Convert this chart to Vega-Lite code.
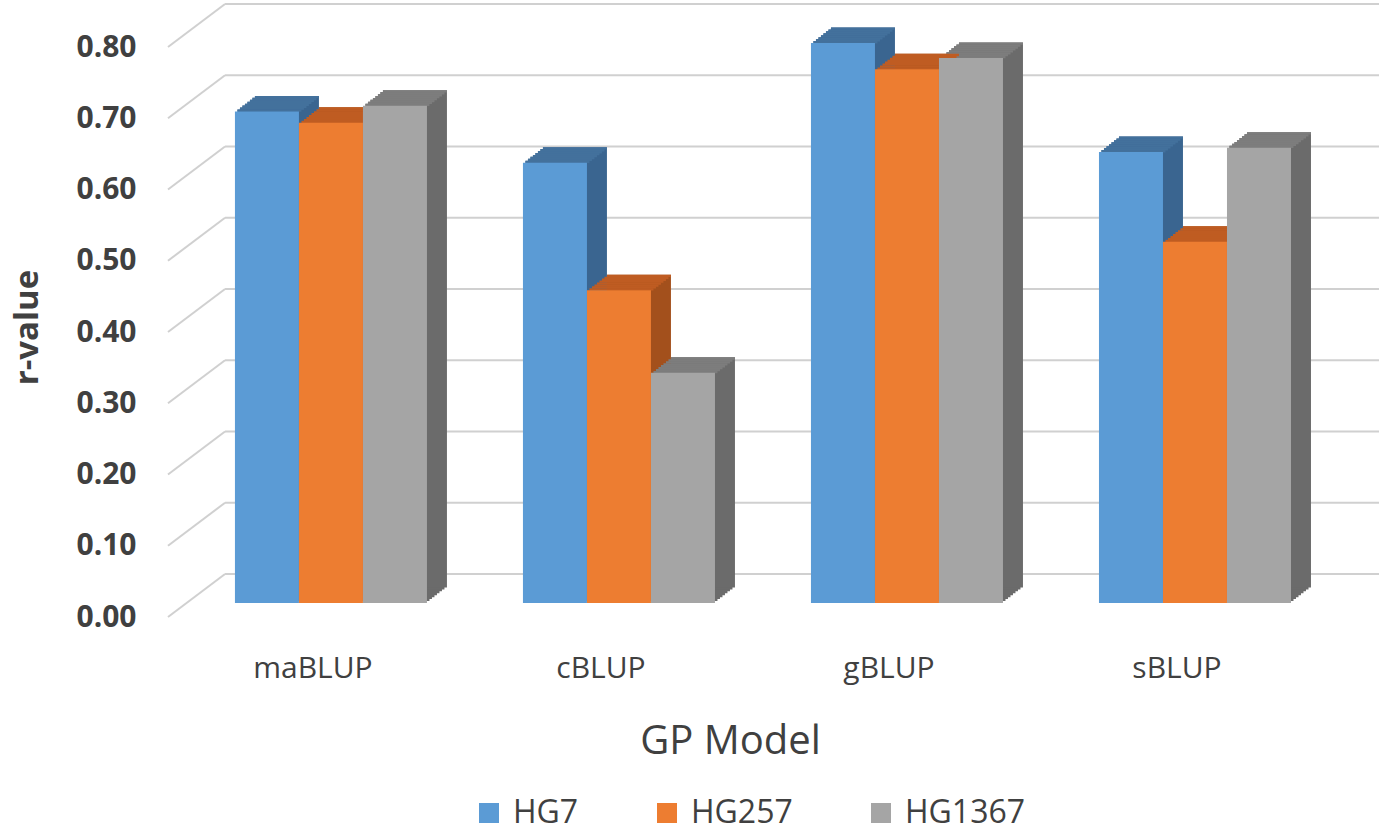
{
  "$schema": "https://vega.github.io/schema/vega-lite/v6.json",
  "description": "r-value by GP model and marker set, drawn as Excel-style 3D clustered columns",
  "autosize": {"type": "none"},
  "padding": {"left": 168, "top": 33, "right": 7, "bottom": 231},
  "width": 1211,
  "height": 570,
  "background": "white",
  "datasets": {
    "grid": [
      {"r": 0.0}, {"r": 0.1}, {"r": 0.2}, {"r": 0.3}, {"r": 0.4},
      {"r": 0.5}, {"r": 0.6}, {"r": 0.7}, {"r": 0.8}
    ],
    "bars": [
      {"model": "maBLUP", "series": "HG7", "r": 0.690},
      {"model": "maBLUP", "series": "HG257", "r": 0.674},
      {"model": "maBLUP", "series": "HG1367", "r": 0.698},
      {"model": "cBLUP", "series": "HG7", "r": 0.618},
      {"model": "cBLUP", "series": "HG257", "r": 0.439},
      {"model": "cBLUP", "series": "HG1367", "r": 0.323},
      {"model": "gBLUP", "series": "HG7", "r": 0.786},
      {"model": "gBLUP", "series": "HG257", "r": 0.749},
      {"model": "gBLUP", "series": "HG1367", "r": 0.765},
      {"model": "sBLUP", "series": "HG7", "r": 0.633},
      {"model": "sBLUP", "series": "HG257", "r": 0.507},
      {"model": "sBLUP", "series": "HG1367", "r": 0.639}
    ]
  },
  "encoding": {
    "y": {
      "field": "r",
      "type": "quantitative",
      "title": "r-value",
      "scale": {"domain": [0, 0.8], "nice": false},
      "axis": {
        "values": [0, 0.1, 0.2, 0.3, 0.4, 0.5, 0.6, 0.7, 0.8],
        "format": ".2f",
        "grid": false,
        "domain": false,
        "ticks": false,
        "tickSize": 0,
        "labelPadding": 32,
        "labelOffset": 14,
        "labelFont": "Open Sans",
        "labelFontSize": 30,
        "labelFontWeight": "bold",
        "labelColor": "#404040",
        "titleFont": "Open Sans",
        "titleFontSize": 33,
        "titleFontWeight": "bold",
        "titleColor": "#404040",
        "titleX": -124,
        "titleY": 294
      }
    }
  },
  "layer": [
    {
      "data": {"name": "grid"},
      "layer": [
        {
          "mark": {"type": "rule", "color": "#d0d0d0", "strokeWidth": 2, "yOffset": -29},
          "encoding": {
            "x": {"datum": 0.0471, "type": "quantitative", "scale": {"domain": [0, 1], "nice": false, "zero": false}, "axis": null},
            "x2": {"datum": 1}
          }
        },
        {
          "mark": {"type": "rule", "color": "#d0d0d0", "strokeWidth": 2, "yOffset": 14, "y2Offset": -29},
          "encoding": {
            "x": {"datum": 0, "type": "quantitative", "scale": {"domain": [0, 1], "nice": false, "zero": false}, "axis": null},
            "x2": {"datum": 0.0471},
            "y2": {"field": "r"}
          }
        }
      ]
    },
    {
      "data": {"name": "bars"},
      "encoding": {
        "x": {
          "field": "model",
          "type": "nominal",
          "sort": ["maBLUP", "cBLUP", "gBLUP", "sBLUP"],
          "title": "GP Model",
          "scale": {"paddingInner": 0.3333, "paddingOuter": 0.269, "align": 0.432},
          "axis": {
            "labelAngle": 0,
            "domain": false,
            "ticks": false,
            "grid": false,
            "labelPadding": 50,
            "labelOffset": -18,
            "labelFont": "Open Sans",
            "labelFontSize": 30,
            "labelColor": "#404040",
            "titleFont": "Open Sans",
            "titleFontSize": 40,
            "titleFontWeight": "normal",
            "titleColor": "#404040",
            "titleX": 562,
            "titleY": 118
          }
        },
        "xOffset": {
          "field": "series",
          "type": "nominal",
          "sort": ["HG7", "HG257", "HG1367"],
          "scale": {"paddingInner": 0, "paddingOuter": 0}
        }
      },
      "layer": [
        {
          "mark": {"type": "bar", "yOffset": -1.94, "y2Offset": -1.94},
          "encoding": {
            "x": {"field": "model", "type": "nominal", "scale": {"paddingInner": 0.3333, "paddingOuter": 0.269, "align": 0.4481}, "axis": null},
            "y2": {"datum": 0},
            "color": {"condition": [{"test": "datum.series === 'HG7'", "value": "#3a6590"}, {"test": "datum.series === 'HG257'", "value": "#a3501c"}], "value": "#6b6b6b"}
          }
        },
        {
          "mark": {"type": "bar", "yOffset": -3.88, "y2Offset": -3.88},
          "encoding": {
            "x": {"field": "model", "type": "nominal", "scale": {"paddingInner": 0.3333, "paddingOuter": 0.269, "align": 0.4643}, "axis": null},
            "y2": {"datum": 0},
            "color": {"condition": [{"test": "datum.series === 'HG7'", "value": "#3a6590"}, {"test": "datum.series === 'HG257'", "value": "#a3501c"}], "value": "#6b6b6b"}
          }
        },
        {
          "mark": {"type": "bar", "yOffset": -5.81, "y2Offset": -5.81},
          "encoding": {
            "x": {"field": "model", "type": "nominal", "scale": {"paddingInner": 0.3333, "paddingOuter": 0.269, "align": 0.4804}, "axis": null},
            "y2": {"datum": 0},
            "color": {"condition": [{"test": "datum.series === 'HG7'", "value": "#3a6590"}, {"test": "datum.series === 'HG257'", "value": "#a3501c"}], "value": "#6b6b6b"}
          }
        },
        {
          "mark": {"type": "bar", "yOffset": -7.75, "y2Offset": -7.75},
          "encoding": {
            "x": {"field": "model", "type": "nominal", "scale": {"paddingInner": 0.3333, "paddingOuter": 0.269, "align": 0.4965}, "axis": null},
            "y2": {"datum": 0},
            "color": {"condition": [{"test": "datum.series === 'HG7'", "value": "#3a6590"}, {"test": "datum.series === 'HG257'", "value": "#a3501c"}], "value": "#6b6b6b"}
          }
        },
        {
          "mark": {"type": "bar", "yOffset": -9.69, "y2Offset": -9.69},
          "encoding": {
            "x": {"field": "model", "type": "nominal", "scale": {"paddingInner": 0.3333, "paddingOuter": 0.269, "align": 0.5126}, "axis": null},
            "y2": {"datum": 0},
            "color": {"condition": [{"test": "datum.series === 'HG7'", "value": "#3a6590"}, {"test": "datum.series === 'HG257'", "value": "#a3501c"}], "value": "#6b6b6b"}
          }
        },
        {
          "mark": {"type": "bar", "yOffset": -11.63, "y2Offset": -11.63},
          "encoding": {
            "x": {"field": "model", "type": "nominal", "scale": {"paddingInner": 0.3333, "paddingOuter": 0.269, "align": 0.5288}, "axis": null},
            "y2": {"datum": 0},
            "color": {"condition": [{"test": "datum.series === 'HG7'", "value": "#3a6590"}, {"test": "datum.series === 'HG257'", "value": "#a3501c"}], "value": "#6b6b6b"}
          }
        },
        {
          "mark": {"type": "bar", "yOffset": -13.56, "y2Offset": -13.56},
          "encoding": {
            "x": {"field": "model", "type": "nominal", "scale": {"paddingInner": 0.3333, "paddingOuter": 0.269, "align": 0.5449}, "axis": null},
            "y2": {"datum": 0},
            "color": {"condition": [{"test": "datum.series === 'HG7'", "value": "#3a6590"}, {"test": "datum.series === 'HG257'", "value": "#a3501c"}], "value": "#6b6b6b"}
          }
        },
        {
          "mark": {"type": "bar", "yOffset": -15.5, "y2Offset": -15.5},
          "encoding": {
            "x": {"field": "model", "type": "nominal", "scale": {"paddingInner": 0.3333, "paddingOuter": 0.269, "align": 0.5610}, "axis": null},
            "y2": {"datum": 0},
            "color": {"condition": [{"test": "datum.series === 'HG7'", "value": "#3a6590"}, {"test": "datum.series === 'HG257'", "value": "#a3501c"}], "value": "#6b6b6b"}
          }
        },
        {
          "mark": {"type": "bar", "yOffset": -1.94, "y2Offset": 0.4},
          "encoding": {
            "x": {"field": "model", "type": "nominal", "scale": {"paddingInner": 0.3333, "paddingOuter": 0.269, "align": 0.4481}, "axis": null},
            "y2": {"field": "r"},
            "color": {"condition": [{"test": "datum.series === 'HG7'", "value": "#43719c"}, {"test": "datum.series === 'HG257'", "value": "#bf5c22"}], "value": "#7d7d7d"}
          }
        },
        {
          "mark": {"type": "bar", "yOffset": -3.88, "y2Offset": -1.6},
          "encoding": {
            "x": {"field": "model", "type": "nominal", "scale": {"paddingInner": 0.3333, "paddingOuter": 0.269, "align": 0.4643}, "axis": null},
            "y2": {"field": "r"},
            "color": {"condition": [{"test": "datum.series === 'HG7'", "value": "#43719c"}, {"test": "datum.series === 'HG257'", "value": "#bf5c22"}], "value": "#7d7d7d"}
          }
        },
        {
          "mark": {"type": "bar", "yOffset": -5.81, "y2Offset": -3.5},
          "encoding": {
            "x": {"field": "model", "type": "nominal", "scale": {"paddingInner": 0.3333, "paddingOuter": 0.269, "align": 0.4804}, "axis": null},
            "y2": {"field": "r"},
            "color": {"condition": [{"test": "datum.series === 'HG7'", "value": "#43719c"}, {"test": "datum.series === 'HG257'", "value": "#bf5c22"}], "value": "#7d7d7d"}
          }
        },
        {
          "mark": {"type": "bar", "yOffset": -7.75, "y2Offset": -5.45},
          "encoding": {
            "x": {"field": "model", "type": "nominal", "scale": {"paddingInner": 0.3333, "paddingOuter": 0.269, "align": 0.4965}, "axis": null},
            "y2": {"field": "r"},
            "color": {"condition": [{"test": "datum.series === 'HG7'", "value": "#43719c"}, {"test": "datum.series === 'HG257'", "value": "#bf5c22"}], "value": "#7d7d7d"}
          }
        },
        {
          "mark": {"type": "bar", "yOffset": -9.69, "y2Offset": -7.4},
          "encoding": {
            "x": {"field": "model", "type": "nominal", "scale": {"paddingInner": 0.3333, "paddingOuter": 0.269, "align": 0.5126}, "axis": null},
            "y2": {"field": "r"},
            "color": {"condition": [{"test": "datum.series === 'HG7'", "value": "#43719c"}, {"test": "datum.series === 'HG257'", "value": "#bf5c22"}], "value": "#7d7d7d"}
          }
        },
        {
          "mark": {"type": "bar", "yOffset": -11.63, "y2Offset": -9.3},
          "encoding": {
            "x": {"field": "model", "type": "nominal", "scale": {"paddingInner": 0.3333, "paddingOuter": 0.269, "align": 0.5288}, "axis": null},
            "y2": {"field": "r"},
            "color": {"condition": [{"test": "datum.series === 'HG7'", "value": "#43719c"}, {"test": "datum.series === 'HG257'", "value": "#bf5c22"}], "value": "#7d7d7d"}
          }
        },
        {
          "mark": {"type": "bar", "yOffset": -13.56, "y2Offset": -11.2},
          "encoding": {
            "x": {"field": "model", "type": "nominal", "scale": {"paddingInner": 0.3333, "paddingOuter": 0.269, "align": 0.5449}, "axis": null},
            "y2": {"field": "r"},
            "color": {"condition": [{"test": "datum.series === 'HG7'", "value": "#43719c"}, {"test": "datum.series === 'HG257'", "value": "#bf5c22"}], "value": "#7d7d7d"}
          }
        },
        {
          "mark": {"type": "bar", "yOffset": -15.5, "y2Offset": -13.2},
          "encoding": {
            "x": {"field": "model", "type": "nominal", "scale": {"paddingInner": 0.3333, "paddingOuter": 0.269, "align": 0.5610}, "axis": null},
            "y2": {"field": "r"},
            "color": {"condition": [{"test": "datum.series === 'HG7'", "value": "#43719c"}, {"test": "datum.series === 'HG257'", "value": "#bf5c22"}], "value": "#7d7d7d"}
          }
        },
        {
          "mark": {"type": "bar"},
          "encoding": {
            "color": {
              "field": "series",
              "type": "nominal",
              "scale": {"domain": ["HG7", "HG257", "HG1367"], "range": ["#5b9bd5", "#ed7d31", "#a5a5a5"]},
              "legend": {
                "title": null,
                "orient": "none",
                "direction": "horizontal",
                "legendX": 305,
                "legendY": 764,
                "symbolType": "square",
                "symbolSize": 400,
                "symbolStrokeWidth": 0,
                "symbolOpacity": 1,
                "labelFont": "Open Sans",
                "labelFontSize": 32,
                "labelColor": "#404040",
                "labelOffset": 8,
                "columnPadding": 72
              }
            }
          }
        }
      ],
      "resolve": {"scale": {"x": "independent"}}
    }
  ],
  "resolve": {"scale": {"x": "independent"}},
  "config": {"view": {"stroke": null}}
}
